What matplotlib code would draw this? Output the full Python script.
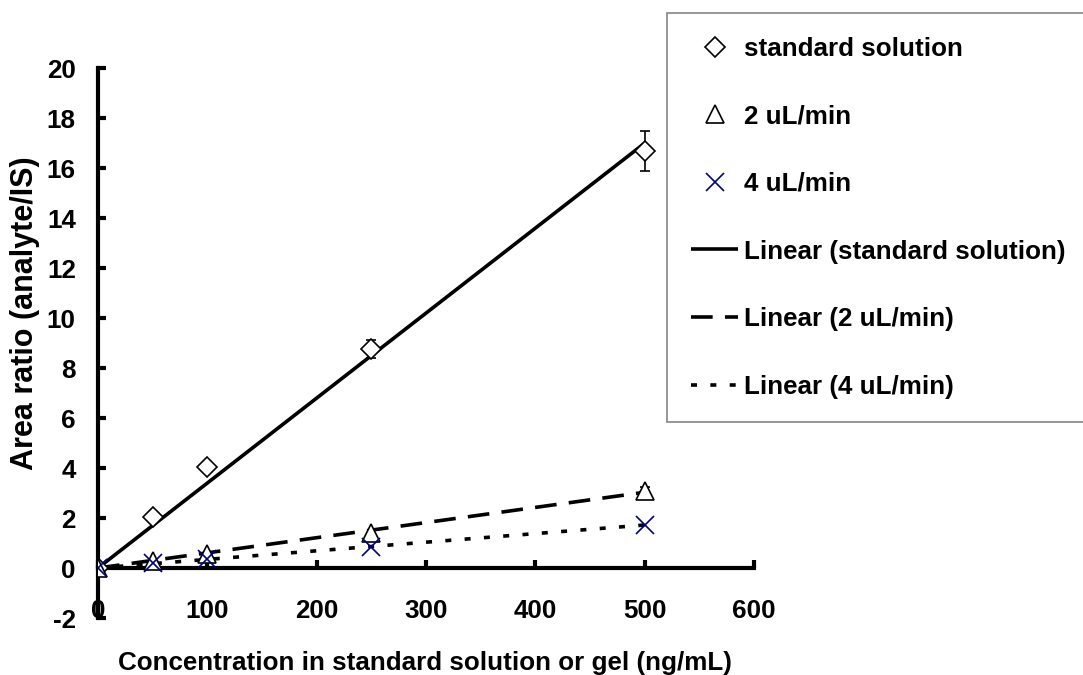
import numpy as np
import matplotlib.pyplot as plt

plt.rcParams['font.family'] = ['Liberation Sans', 'DejaVu Sans']
plt.rcParams['font.weight'] = 'bold'
plt.rcParams['axes.unicode_minus'] = False

# Calibration data: concentration vs. area ratio
conc = [0, 50, 100, 250, 500]
std_ratio = [0, 2.03, 4.03, 8.76, 16.7]
std_err = [0, 0.05, 0.1, 0.35, 0.8]
flow2_ratio = [0, 0.28, 0.55, 1.4, 3.1]
flow2_err = [0, 0, 0, 0, 0.15]
flow4_ratio = [0, 0.21, 0.35, 0.85, 1.72]

series_labels = ['standard solution', '2 uL/min', '4 uL/min']
fit_labels = ['Linear (standard solution)', 'Linear (2 uL/min)', 'Linear (4 uL/min)']
x_ticks = [0, 100, 200, 300, 400, 500, 600]
y_ticks = [-2, 0, 2, 4, 6, 8, 10, 12, 14, 16, 18, 20]

FS = 18.7

fig = plt.figure(figsize=(10.83, 6.75), dpi=100)
ax = fig.add_axes([98 / 1083, 57 / 675, 656 / 1083, 550 / 675])


def fit_origin(x, y):
    # least-squares slope with intercept forced to zero
    x = np.asarray(x, float)
    y = np.asarray(y, float)
    return (x * y).sum() / (x * x).sum()


xs = np.array([0, 500])
lw = 2.6
h_l1, = ax.plot(xs, fit_origin(conc, std_ratio) * xs, color='black', lw=lw,
                solid_capstyle='butt')
h_l2, = ax.plot(xs, fit_origin(conc, flow2_ratio) * xs, color='black', lw=lw,
                dashes=(6.0, 3.4), dash_capstyle='butt')
h_l3, = ax.plot(xs, fit_origin(conc, flow4_ratio) * xs, color='black', lw=lw,
                dashes=(1.66, 3.7), dash_capstyle='butt')

eb1 = ax.errorbar(conc, std_ratio, yerr=std_err, fmt='D', ms=10, mfc='white',
                  mec='black', mew=1.2, ecolor='black', elinewidth=1.2,
                  capsize=3.6, capthick=1.2, zorder=4)
eb2 = ax.errorbar(conc, flow2_ratio, yerr=flow2_err, fmt='^', ms=13, mfc='white',
                  mec='black', mew=1.2, ecolor='black', elinewidth=1.2,
                  capsize=3.6, capthick=1.2, zorder=4)
h3, = ax.plot(conc, flow4_ratio, 'x', ms=13.5, mec='#000080', mew=1.2, zorder=5)

ax.set_xlim(0, 600)
ax.set_ylim(-2, 20)
ax.set_xticks(x_ticks)
ax.set_yticks(y_ticks)

for s in ['top', 'right']:
    ax.spines[s].set_visible(False)
ax.spines['bottom'].set_position(('data', 0))
for s in ['left', 'bottom']:
    ax.spines[s].set_linewidth(3)
ax.tick_params(axis='both', direction='in', length=6, width=3, labelsize=FS)
ax.tick_params(axis='x', pad=22)
ax.tick_params(axis='y', pad=16)
for lab in ax.get_xticklabels() + ax.get_yticklabels():
    lab.set_fontweight('bold')

fig.text(425 / 1083, 1 - 663 / 675, 'Concentration in standard solution or gel (ng/mL)',
         ha='center', va='center', fontsize=FS, fontweight='bold')
fig.text(25 / 1083, 1 - 313 / 675, 'Area ratio (analyte/IS)', rotation=90,
         ha='center', va='center', fontsize=22, fontweight='bold')

leg = fig.legend([eb1[0], eb2[0], h3, h_l1, h_l2, h_l3],
                 series_labels + fit_labels,
                 loc='upper left', bbox_to_anchor=(667 / 1083, 1 - 13 / 675),
                 borderaxespad=0, frameon=True, fancybox=False,
                 handlelength=1.84, handletextpad=0.2, labelspacing=1.68,
                 borderpad=0.91, prop={'weight': 'bold', 'size': FS})
leg.get_frame().set_edgecolor('#666666')
leg.get_frame().set_linewidth(1.2)

fig.savefig('out.png', dpi=100)
